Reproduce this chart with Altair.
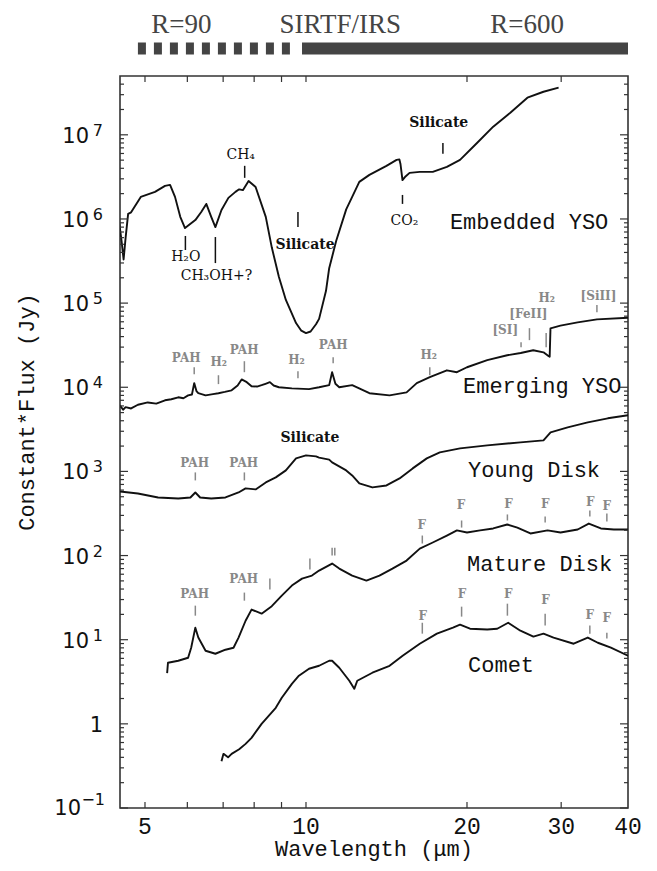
import altair as alt
import pandas as pd

# ---------------- spectra (wavelength in micron, flux in Jy) ----------------
emb_wl = [4.47, 4.52, 4.56, 4.60, 4.65, 4.71, 4.91, 5.22, 5.45, 5.57, 5.69, 5.82, 5.94,
          6.21, 6.37, 6.51, 6.65, 6.77, 6.95, 7.16, 7.38, 7.50, 7.62, 7.81, 8.05, 8.41,
          8.63, 8.90, 9.17, 9.58, 9.80, 10.0, 10.2, 10.44, 10.58, 10.90, 11.05, 11.39, 11.89,
          12.20, 12.58, 13.14, 14.14, 14.77, 14.95, 15.02, 15.15, 15.35, 15.62, 16.32,
          17.26, 18.34, 19.41, 20.88, 22.39, 24.10, 25.94, 27.80, 29.67]
emb_fx = [9.5e5, 5.5e5, 3.3e5, 6.0e5, 1.15e6, 1.2e6, 1.83e6, 2.10e6, 2.47e6, 2.54e6, 1.83e6,
          1.06e6, 7.8e5, 9.7e5, 1.21e6, 1.51e6, 1.06e6, 8.0e5, 1.28e6, 1.78e6, 2.10e6, 2.25e6,
          2.2e6, 2.83e6, 2.40e6, 1.06e6, 4.6e5, 2.04e5, 1.09e5, 5.8e4, 4.7e4, 4.4e4, 4.6e4, 5.6e4,
          6.5e4, 1.4e5, 2.6e5, 5.5e5, 1.3e6, 1.83e6, 2.76e6, 3.34e6, 4.28e6, 5.04e6, 5.1e6,
          4.5e6, 2.9e6, 3.2e6, 3.53e6, 3.63e6, 3.63e6, 4.16e6, 5.04e6, 8.0e6, 1.25e7, 1.83e7,
          2.76e7, 3.25e7, 3.63e7]

emg_wl = [4.49, 4.55, 4.60, 4.71, 4.85, 5.06, 5.25, 5.45, 5.60, 5.77, 5.90, 6.02, 6.12, 6.18,
          6.24, 6.29, 6.49, 6.70, 6.86, 7.05, 7.26, 7.45, 7.58, 7.75, 7.91, 8.10, 8.26, 8.40,
          8.56, 8.70, 8.90, 9.41, 10.13, 10.58, 11.05, 11.19, 11.35, 11.54, 12.20, 13.14,
          14.33, 15.42, 16.11, 17.04, 18.34, 19.15, 20.0, 21.82, 23.78, 25.2, 26.6, 27.8,
          28.4, 28.55, 28.65, 29.9, 32.2, 35.0, 40.0]
emg_fx = [6.1e3, 5.4e3, 5.8e3, 5.6e3, 6.2e3, 6.6e3, 6.4e3, 7.0e3, 7.2e3, 7.6e3, 7.4e3, 8.0e3,
          8.2e3, 1.12e4, 9.0e3, 8.5e3, 8.0e3, 8.3e3, 8.5e3, 8.8e3, 9.2e3, 1.05e4, 1.24e4,
          1.15e4, 1.03e4, 1.02e4, 1.06e4, 1.10e4, 1.15e4, 1.05e4, 1.0e4, 9.7e3, 9.5e3, 1.0e4,
          1.06e4, 1.51e4, 1.1e4, 1.0e4, 1.06e4, 8.5e3, 8.0e3, 8.7e3, 1.12e4, 1.32e4, 1.59e4,
          1.51e4, 1.73e4, 2.10e4, 2.40e4, 2.55e4, 2.75e4, 2.6e4, 2.35e4, 2.3e4, 5.0e4, 5.4e4,
          5.9e4, 6.4e4, 6.7e4]

yd_wl = [4.49, 4.85, 5.29, 5.77, 6.08, 6.21, 6.34, 6.65, 7.07, 7.48, 7.71, 8.05, 8.41, 8.78,
         9.17, 9.58, 10.0, 10.44, 10.58, 11.05, 11.19, 11.89, 12.20, 12.58, 13.31, 14.14,
         14.96, 15.83, 16.82, 17.79, 19.41, 21.82, 25.17, 27.80, 28.66, 30.85, 33.64, 36.67, 40.0]
yd_fx = [578, 547, 490, 477, 490, 562, 490, 477, 490, 562, 628, 611, 740, 849, 1028, 1429,
         1549, 1509, 1460, 1380, 1279, 1028, 896, 720, 645, 681, 826, 1086, 1429, 1683, 1878,
         2040, 2213, 2340, 2912, 3340, 3830, 4276, 4641]

md_wl = [5.50, 5.52, 5.77, 6.02, 6.10, 6.21, 6.29, 6.49, 6.77, 7.07, 7.32, 7.48, 7.71, 7.91,
         8.26, 8.63, 9.01, 9.41, 9.83, 10.26, 10.58, 11.19, 11.54, 12.20, 12.97, 13.72, 14.51,
         15.42, 16.32, 17.26, 18.34, 19.15, 20.0, 21.16, 22.39, 23.78, 24.84, 26.28, 28.29,
         29.92, 32.21, 33.79, 35.59, 37.64, 40.0]
md_fx = [4.0, 5.32, 5.62, 6.10, 8.03, 13.9, 10.6, 7.39, 6.81, 7.60, 8.03, 10.6, 16.8, 22.8,
         20.4, 25.0, 33.4, 44.0, 53.2, 57.8, 66.3, 80.3, 70.0, 57.8, 50.4, 57.8, 70.0, 87.2,
         121, 143, 173, 199, 188, 199, 210, 234, 215, 183, 199, 188, 204, 240, 210, 204, 204]

cm_wl = [6.95, 7.01, 7.15, 7.26, 7.50, 7.71, 7.91, 8.26, 8.78, 9.01, 9.41, 9.70, 10.13, 10.58,
         11.05, 11.19, 11.54, 12.05, 12.31, 12.47, 13.31, 14.33, 15.16, 16.32, 17.57, 18.83,
         19.41, 20.26, 21.82, 22.78, 23.88, 25.17, 26.62, 27.80, 29.03, 31.66, 33.64, 35.13,
         37.16, 40.0]
cm_fx = [0.36, 0.44, 0.40, 0.44, 0.50, 0.578, 0.681, 1.0, 1.55, 2.04, 2.99, 3.73, 4.52, 4.90,
         5.62, 5.62, 4.64, 3.25, 2.61, 3.25, 4.05, 4.9, 6.45, 8.96, 11.8, 13.9, 15.1, 13.5,
         13.2, 13.5, 15.9, 12.8, 10.9, 11.8, 10.6, 8.96, 10.6, 9.2, 8.03, 6.45]

# ---------------- feature markers: (wavelength, low flux, high flux, colour) ----------------
mark_wl = [7.68, 5.95, 6.77, 9.66, 15.15, 18.03,
           6.18, 6.86, 7.67, 9.66, 11.24, 17.04, 25.24, 26.17, 28.12, 34.99,
           6.21, 7.67,
           6.21, 7.67, 8.56, 10.17, 11.19, 11.32, 16.5, 19.54, 23.8, 28.0, 33.94, 36.52,
           16.5, 19.54, 23.8, 28.0, 33.94, 36.52]
mark_lo = [3.08e6, 4.28e5, 2.99e5, 8.0e5, 1.51e6, 5.94e6,
           1.43e4, 1.09e4, 1.51e4, 1.28e4, 1.93e4, 1.39e4, 2.99e4, 3.63e4, 2.99e4, 7.8e4,
           782, 782,
           19.3, 29.1, 39.4, 68.1, 100, 100, 139, 215, 261, 247, 291, 254,
           11.8, 18.8, 19.3, 14.7, 11.8, 10.3]
mark_hi = [4.28e6, 6.28e5, 6.1e5, 1.21e6, 1.93e6, 8.0e6,
           1.73e4, 1.39e4, 2.04e4, 1.55e4, 2.28e4, 1.73e4, 3.43e4, 5.04e4, 4.4e4, 9.5e4,
           973, 973,
           25.4, 36.3, 53.2, 92.1, 124, 124, 173, 261, 308, 291, 343, 316,
           15.9, 24.7, 26.8, 20.4, 14.7, 12.1]
mark_col = ["#111"] * 6 + ["#888"] * 30

# ---------------- labels ----------------
chem_txt = ["CH₄", "H₂O", "CH₃OH+?", "CO₂"]
chem_wl = [7.55, 5.96, 6.80, 15.28]
chem_fx = [5.78e6, 3.53e5, 2.09e5, 9.5e5]

sil_txt = ["Silicate", "Silicate", "Silicate"]
sil_wl = [9.96, 17.71, 10.17]
sil_fx = [4.9e5, 1.39e7, 2.47e3]

gray_txt = ["PAH", "H₂", "PAH", "H₂", "PAH", "H₂", "[SI]", "[FeII]", "H₂", "[SiII]",
            "PAH", "PAH", "PAH", "PAH",
            "F", "F", "F", "F", "F", "F",
            "F", "F", "F", "F", "F", "F"]
gray_wl = [5.97, 6.87, 7.66, 9.6, 11.24, 16.96, 23.58, 26.05, 28.2, 35.22,
           6.19, 7.65, 6.19, 7.65,
           16.46, 19.49, 23.91, 28.0, 34.0, 36.52,
           16.53, 19.57, 23.88, 28.04, 33.94, 36.52]
gray_fx = [2.24e4, 1.99e4, 2.79e4, 2.12e4, 3.16e4, 2.40e4, 4.84e4, 7.4e4, 1.16e5, 1.23e5,
           1.26e3, 1.26e3, 35.3, 53.2,
           228, 394, 405, 405, 428, 388,
           19.3, 35.3, 35.3, 29.9, 19.9, 18.3]

name_txt = ["Embedded YSO", "Emerging YSO", "Young Disk", "Mature Disk", "Comet"]
name_wl = [18.58, 19.66, 20.09, 20.0, 20.09]
name_fx = [9.2e5, 1.03e4, 1.03e3, 79.3, 5.04]

# instrument bar above the plot
bar_x1 = [4.85, 9.83]
bar_x2 = [9.37, 40.0]
bar_style = ["dashed", "solid"]
top_txt = ["R=90", "SIRTF/IRS", "R=600"]
top_wl = [5.85, 11.59, 25.9]

# axes
x_tick_vals = [5, 6, 7, 8, 9, 10, 20, 30]
x_lab_vals = [5, 10, 20, 30, 40]
y_major = [0.1, 1, 10, 100, 1e3, 1e4, 1e5, 1e6, 1e7]
y_minor = [m * 10.0 ** e for e in range(-1, 8) for m in range(2, 10) if m * 10.0 ** e < 5e7]
y_lab_vals = [1e7, 1e6, 1e5, 1e4, 1e3, 1e2, 10]
y_lab_exp = ["7", "6", "5", "4", "3", "2", "1"]

W, H = 508, 732
XS = alt.Scale(type="log", domain=[4.49, 40], nice=False)
YS = alt.Scale(type="log", domain=[0.1, 5e7], nice=False)

rows = []
for name, wl, fx in [("Embedded YSO", emb_wl, emb_fx), ("Emerging YSO", emg_wl, emg_fx),
                     ("Young Disk", yd_wl, yd_fx), ("Mature Disk", md_wl, md_fx),
                     ("Comet", cm_wl, cm_fx)]:
    for i, (w, f) in enumerate(zip(wl, fx)):
        rows.append({"series": name, "i": i, "wl": w, "fx": f})
spec = pd.DataFrame(rows)

X = lambda f: alt.X(f, scale=XS, axis=None)
Y = lambda f: alt.Y(f, scale=YS, axis=None)

lines = alt.Chart(spec).mark_line(color="#111", strokeWidth=1.9, clip=True, strokeJoin="round").encode(
    x=X("wl:Q"), y=Y("fx:Q"), detail="series:N", order="i:Q")

mk = pd.DataFrame({"wl": mark_wl, "lo": mark_lo, "hi": mark_hi, "col": mark_col})
markers = alt.Chart(mk).mark_rule(strokeWidth=1.5).encode(
    x=X("wl:Q"), y=Y("lo:Q"), y2="hi:Q", color=alt.Color("col:N", scale=None))


def labels(txt, wl, fx, font, size, weight, color, align="center"):
    df = pd.DataFrame({"t": txt, "wl": wl, "fx": fx})
    return alt.Chart(df).mark_text(font=font, fontSize=size, fontWeight=weight, color=color,
                                   align=align, baseline="middle").encode(
        x=X("wl:Q"), y=Y("fx:Q"), text="t:N")


chem = labels(chem_txt, chem_wl, chem_fx, "DejaVu Serif", 14, "normal", "#111")
sil = labels(sil_txt, sil_wl, sil_fx, "DejaVu Serif", 14, "bold", "#111")
gray = labels(gray_txt, gray_wl, gray_fx, "DejaVu Serif", 12, "bold", "#888")
names = labels(name_txt, name_wl, name_fx, "Liberation Mono", 22, "normal", "#111", align="left")

bars = pd.DataFrame({"x1": bar_x1, "x2": bar_x2, "s": bar_style})
bar_dash = alt.Chart(bars[bars.s == "dashed"]).mark_rule(
    strokeWidth=12, color="#444", strokeDash=[8, 8], strokeCap="butt").encode(
    x=X("x1:Q"), x2="x2:Q", y=alt.value(-27.5))
bar_solid = alt.Chart(bars[bars.s == "solid"]).mark_rule(
    strokeWidth=12, color="#444", strokeCap="butt").encode(
    x=X("x1:Q"), x2="x2:Q", y=alt.value(-27.5))
top_text = alt.Chart(pd.DataFrame({"t": top_txt, "wl": top_wl})).mark_text(
    font="Liberation Serif", fontSize=27, color="#444", baseline="alphabetic").encode(
    x=X("wl:Q"), y=alt.value(-43.5), text="t:N")

# axis ticks (inward)
xt = pd.DataFrame({"v": x_tick_vals})
tick_style = dict(color="#333", strokeWidth=1.2)
xt_bot = alt.Chart(xt).mark_rule(**tick_style).encode(x=X("v:Q"), y=alt.value(H), y2=alt.value(H - 6))
xt_top = alt.Chart(xt).mark_rule(**tick_style).encode(x=X("v:Q"), y=alt.value(0), y2=alt.value(6))
ymj = pd.DataFrame({"v": y_major})
ymn = pd.DataFrame({"v": y_minor})
yl_mj = alt.Chart(ymj).mark_rule(**tick_style).encode(y=Y("v:Q"), x=alt.value(0), x2=alt.value(8))
yr_mj = alt.Chart(ymj).mark_rule(**tick_style).encode(y=Y("v:Q"), x=alt.value(W), x2=alt.value(W - 8))
yl_mn = alt.Chart(ymn).mark_rule(**tick_style).encode(y=Y("v:Q"), x=alt.value(0), x2=alt.value(4))
yr_mn = alt.Chart(ymn).mark_rule(**tick_style).encode(y=Y("v:Q"), x=alt.value(W), x2=alt.value(W - 4))

# x tick labels and title
xlab = alt.Chart(pd.DataFrame({"v": x_lab_vals, "t": [str(v) for v in x_lab_vals]})).mark_text(
    font="Liberation Mono", fontSize=23, color="#111", baseline="alphabetic").encode(
    x=X("v:Q"), y=alt.value(758), text="t:N")
xtitle = alt.Chart(pd.DataFrame({"t": ["Wavelength (μm)"]})).mark_text(
    font="Liberation Mono", fontSize=22, color="#111", baseline="alphabetic").encode(
    x=alt.value(W / 2), y=alt.value(780), text="t:N")
ytitle = alt.Chart(pd.DataFrame({"t": ["Constant*Flux (Jy)"]})).mark_text(
    font="Liberation Mono", fontSize=22, color="#111", baseline="alphabetic", angle=270).encode(
    x=alt.value(-86), y=alt.value(336), text="t:N")

# y tick labels with superscripts
ylab_df = pd.DataFrame({"v": y_lab_vals, "e": y_lab_exp})
ybase = alt.Chart(ylab_df).mark_text(font="DejaVu Sans", fontSize=21, color="#111", align="right",
                                      baseline="alphabetic", dy=8).encode(
    y=Y("v:Q"), x=alt.value(-31), text=alt.value("10"))
yexp = alt.Chart(ylab_df).mark_text(font="DejaVu Sans", fontSize=16, color="#111", align="right",
                                     baseline="alphabetic", dy=1).encode(
    y=Y("v:Q"), x=alt.value(-17), text="e:N")
yone = alt.Chart(pd.DataFrame({"v": [1]})).mark_text(font="DejaVu Sans", fontSize=21, color="#111",
                                                      align="right", baseline="alphabetic", dy=8).encode(
    y=Y("v:Q"), x=alt.value(-17), text=alt.value("1"))
yneg_b = alt.Chart(pd.DataFrame({"v": [0.1]})).mark_text(font="DejaVu Sans", fontSize=21, color="#111",
                                                          align="right", baseline="alphabetic", dy=7).encode(
    y=Y("v:Q"), x=alt.value(-39), text=alt.value("10"))
yneg_e = alt.Chart(pd.DataFrame({"v": [0.1]})).mark_text(font="DejaVu Sans", fontSize=16, color="#111",
                                                          align="right", baseline="alphabetic", dy=-3).encode(
    y=Y("v:Q"), x=alt.value(-15), text=alt.value("−1"))

chart = alt.layer(
    lines, markers, chem, sil, gray, names,
    bar_dash, bar_solid, top_text,
    xt_bot, xt_top, yl_mj, yr_mj, yl_mn, yr_mn,
    xlab, xtitle, ytitle, ybase, yexp, yone, yneg_b, yneg_e,
).properties(
    width=W, height=H,
    autosize=alt.AutoSizeParams(type="none"),
    padding={"left": 112, "top": 68, "right": 21, "bottom": 55},
).configure(background="white").configure_view(stroke="#333", strokeWidth=1.6)

chart.save("out.html", embed_options={"renderer": "svg", "actions": False})
